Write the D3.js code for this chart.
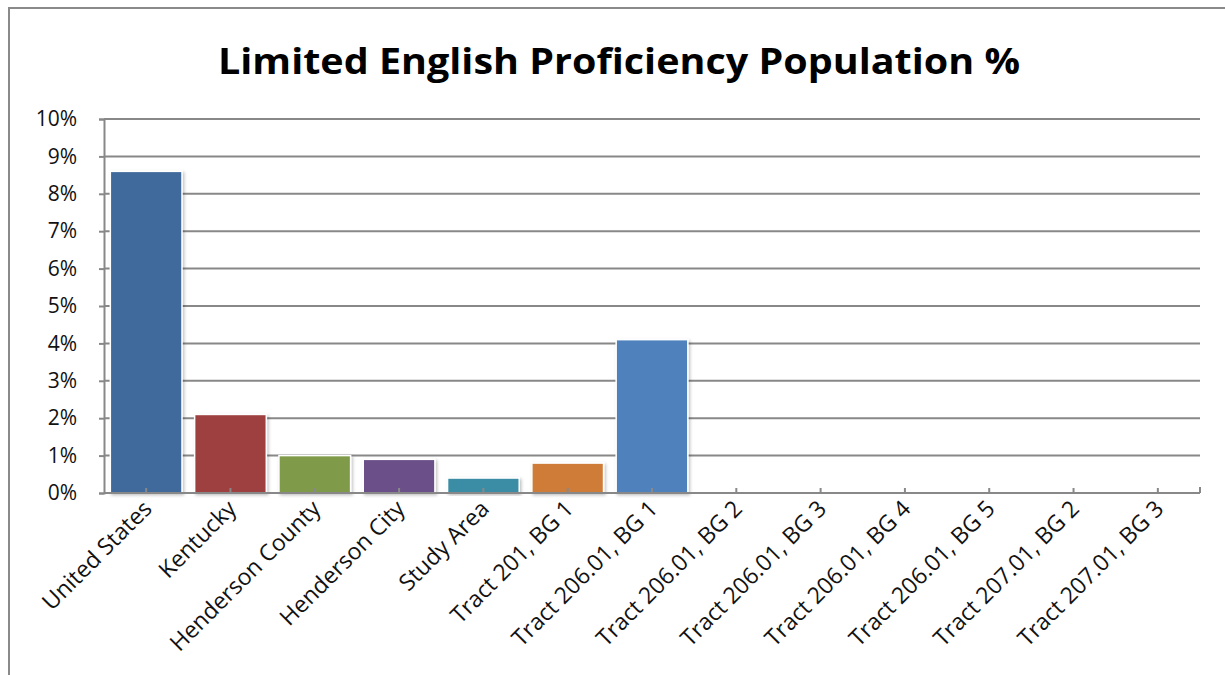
<!DOCTYPE html>
<html>
<head>
	<meta charset="utf-8">
	<title>Limited English Proficiency</title>
	<style>
		body { margin: 0; background: #fff; }
		svg { display: block; font-family: "Open Sans", "Liberation Sans", sans-serif; }
	</style>
</head>
<body>
	<svg width="1225" height="675"></svg>
	<script src="https://d3js.org/d3.v7.min.js"></script>
	<script>
		//chart data
		var categories = ["United States", "Kentucky", "Henderson County", "Henderson City", "Study Area",
			"Tract 201, BG 1", "Tract 206.01, BG 1", "Tract 206.01, BG 2", "Tract 206.01, BG 3",
			"Tract 206.01, BG 4", "Tract 206.01, BG 5", "Tract 207.01, BG 2", "Tract 207.01, BG 3"];
		var values = [8.6, 2.1, 1.0, 0.9, 0.4, 0.8, 4.1, 0, 0, 0, 0, 0, 0];
		var colors = ["#416a9c", "#9e413f", "#7f9a48", "#6a4f89", "#3a8da5", "#cf7b37", "#4f81bd",
			"#4f81bd", "#4f81bd", "#4f81bd", "#4f81bd", "#4f81bd", "#4f81bd"];
		var yTicks = [0, 1, 2, 3, 4, 5, 6, 7, 8, 9, 10];

		var svg = d3.select("svg");
		var font = "'Open Sans', 'Liberation Sans', sans-serif";

		var margin = { top: 119, left: 104, right: 25, bottom: 182 };
		var width = 1225 - margin.left - margin.right;
		var height = 675 - margin.top - margin.bottom;

		//outer frame of the chart
		svg.append("path")
			.attr("d", "M9,675 L9,8 L1225,8")
			.attr("fill", "none")
			.attr("stroke", "#8a8a8a")
			.attr("stroke-width", 2);

		//title
		svg.append("text")
			.attr("x", 619)
			.attr("y", 74)
			.attr("text-anchor", "middle")
			.attr("font-size", 36)
			.attr("font-weight", "bold")
			.attr("textLength", 802)
			.attr("lengthAdjust", "spacingAndGlyphs")
			.text("Limited English Proficiency Population %");

		var defs = svg.append("defs");
		var shadow = defs.append("filter").attr("id", "shadow")
			.attr("x", "-20%").attr("y", "-20%").attr("width", "140%").attr("height", "140%");
		shadow.append("feDropShadow")
			.attr("dx", 1.5).attr("dy", 1.5).attr("stdDeviation", 1.5)
			.attr("flood-color", "#000").attr("flood-opacity", 0.25);

		var g = svg.append("g")
			.attr("transform", "translate(" + margin.left + "," + margin.top + ")");

		var x = d3.scaleBand()
			.domain(categories)
			.range([0, width])
			.paddingInner(0.15)
			.paddingOuter(0.075);

		var y = d3.scaleLinear()
			.domain([0, 10])
			.range([height, 0]);

		//gridlines
		g.append("g")
			.selectAll("line")
			.data(yTicks.slice(1))
			.enter().append("line")
			.attr("x1", 0)
			.attr("x2", width)
			.attr("y1", function(d) { return y(d); })
			.attr("y2", function(d) { return y(d); })
			.attr("stroke", "#888")
			.attr("stroke-width", 2);

		//y axis
		var yAxis = g.append("g")
			.call(d3.axisLeft(y).tickValues(yTicks).tickSize(5).tickPadding(22)
				.tickFormat(function(d) { return d + "%"; }))
			.attr("font-family", font);
		yAxis.select(".domain").attr("stroke", "#888").attr("stroke-width", 2);
		yAxis.selectAll(".tick line").attr("stroke", "#888").attr("stroke-width", 2);
		yAxis.selectAll("text").attr("font-size", 21).attr("fill", "#111");

		//bars
		g.selectAll(".bar")
			.data(values)
			.enter().append("rect")
			.attr("class", "bar")
			.attr("x", function(d, i) { return x(categories[i]); })
			.attr("y", function(d) { return y(d); })
			.attr("width", x.bandwidth())
			.attr("height", function(d) { return height - y(d); })
			.attr("fill", function(d, i) { return colors[i]; })
			.attr("stroke", function(d) { return d > 0 ? "#fff" : "none"; })
			.attr("stroke-width", 1.5)
			.attr("filter", function(d) { return d > 0 ? "url(#shadow)" : null; });

		//x axis
		var xAxis = g.append("g")
			.attr("transform", "translate(0," + height + ")")
			.call(d3.axisBottom(x).tickSizeInner(-5).tickSizeOuter(0))
			.attr("font-family", font);
		xAxis.select(".domain").attr("stroke", "#888").attr("stroke-width", 2)
			.attr("d", "M0,0H" + width);
		xAxis.selectAll(".tick line").attr("stroke", "#888").attr("stroke-width", 2);
		xAxis.append("line")
			.attr("x1", width).attr("x2", width).attr("y1", 0).attr("y2", -6)
			.attr("stroke", "#888").attr("stroke-width", 2);
		xAxis.selectAll(".tick text")
			.attr("font-size", 23)
			.attr("fill", "#111")
			.style("text-anchor", "end")
			.attr("dx", 0)
			.attr("dy", 0)
			.attr("transform", "translate(5,15) rotate(-45)");
	</script>
</body>
</html>
